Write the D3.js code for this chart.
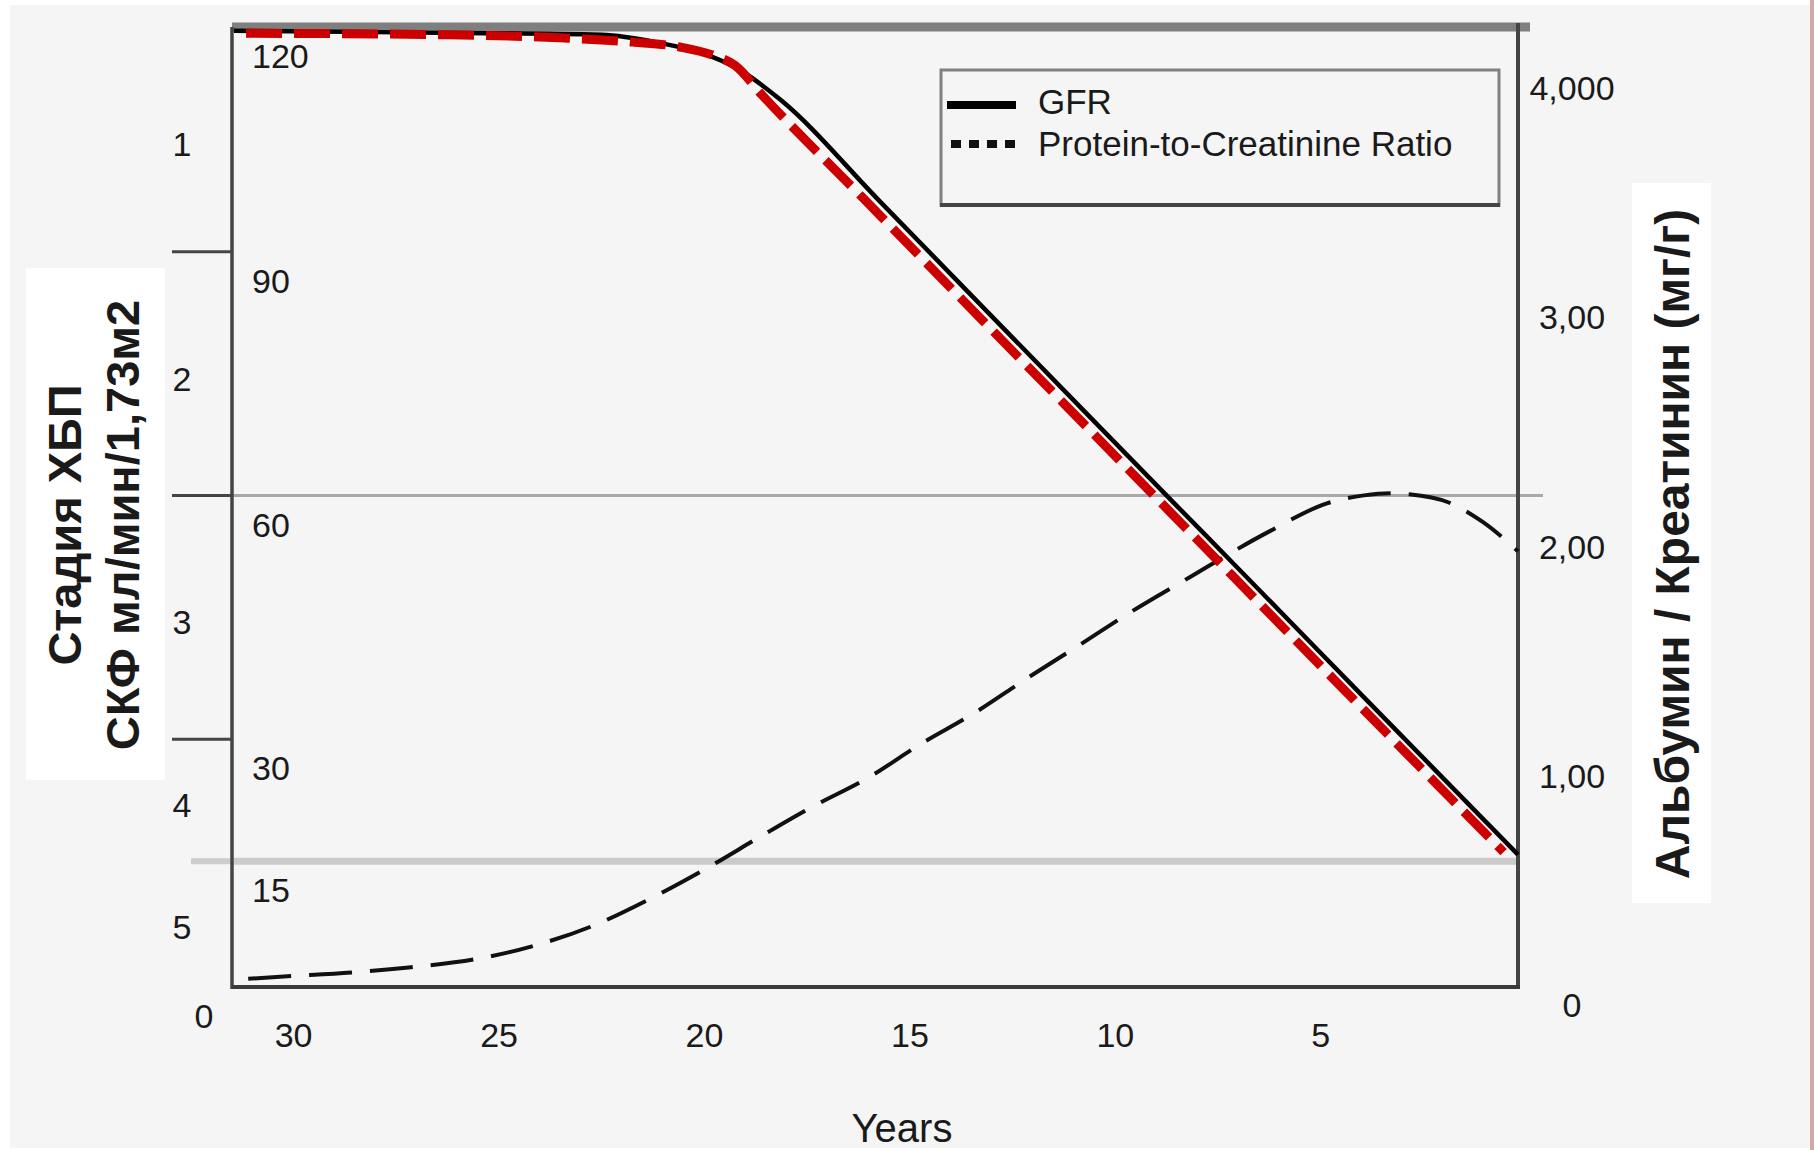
<!DOCTYPE html>
<html>
<head>
<meta charset="utf-8">
<script src="https://cdn.jsdelivr.net/npm/d3@7/dist/d3.min.js"></script>
<style>
  html, body { margin: 0; padding: 0; background: #ffffff; }
  svg { display: block; }
  text { font-family: "Liberation Sans", Arial, sans-serif; fill: #1a1a1a; }
</style>
</head>
<body>
<svg id="chart" width="1814" height="1150"></svg>
<script>
// ---- Data ---------------------------------------------------------------
// Years before kidney failure (x) and glomerular filtration rate, ml/min/1.73m2
const gfrYears  = [31.45, 27.4, 22.5, 21.1, 20.1, 19.15, 18.15, 15.75, 12.9, 10.8, 8.5, 7.2, 3.9, 0.2];
const gfrValues = [117.2, 117.0, 116.7, 115.7, 114.5, 112.4, 108.7, 96.3, 81.5, 70.6, 58.7, 52.0, 34.9, 15.8];

// Highlighted GFR decline (red dashed overlay)
const trendYears  = [31.45, 26.2, 23.4, 21.75, 20.6, 19.8, 19.25, 18.6, 16.15, 13.3, 8.75, 4.3, 0.55];
const trendValues = [116.9, 116.7, 116.3, 115.8, 115.2, 114.2, 112.9, 109.3, 96.65, 81.9, 58.4, 35.4, 16.1];

// Protein-to-creatinine ratio, mg/g
const pcrYears  = [31.3, 30.15, 28.6, 27.2, 25.6, 24.2, 22.75, 21.35, 20.0, 18.55, 17.4, 16.0, 14.75,
                   13.4, 12.15, 10.85, 9.6, 8.2, 6.25, 4.85, 3.95, 3.3, 2.85, 1.9, 1.05, 0.2];
const pcrValues = [112, 125, 142, 164, 199, 256, 343, 461, 591, 744, 862, 993, 1137,
                   1277, 1425, 1573, 1717, 1865, 2066, 2188, 2223, 2232, 2228, 2193, 2106, 1979];

// Axis ticks and labels
const yearTicks   = [30, 25, 20, 15, 10, 5];
const gfrTicks    = [120, 90, 60, 30, 15];
const stageCuts   = [90, 60, 30, 15];
const stageGrid   = [60, 15];
const stageNames  = ["1", "2", "3", "4", "5"];
const stageBounds = [[90, 120], [60, 90], [30, 60], [15, 30], [0, 15]];
const pcrTicks    = [0, 1000, 2000, 3000, 4000];
const pcrLabels   = ["0", "1,00", "2,00", "3,00", "4,000"];

const legendItems = ["GFR", "Protein-to-Creatinine Ratio"];
const leftTitle   = ["Стадия ХБП", "СКФ мл/мин/1,73м2"];
const rightTitle  = "Альбумин / Креатинин (мг/г)";
const xTitle      = "Years";

// ---- Layout -------------------------------------------------------------
const W = 1814, H = 1150;
const plot = { left: 232, right: 1518, top: 27, bottom: 987 };

const x    = d3.scaleLinear().domain([31.5, 0.2]).range([plot.left, plot.right]);
const yGfr = d3.scaleLinear().domain([0, 120]).range([983, 8]);
const yPcr = d3.scaleLinear().domain([0, 4000]).range([1005, 88]);

const svg = d3.select("#chart");

// background
svg.append("rect").attr("width", W).attr("height", H).attr("fill", "#ffffff");
svg.append("rect").attr("x", 10).attr("y", 5).attr("width", W - 14).attr("height", H - 7).attr("fill", "#f5f5f5");
svg.append("rect").attr("x", 1810).attr("y", 0).attr("width", 4).attr("height", H).attr("fill", "#d9a4a4");

// ---- Stage boundaries: outer ticks and gridlines ------------------------
const gGrid = svg.append("g");
stageCuts.forEach(v => {
  const yy = yGfr(v);
  const light = v === 15;
  gGrid.append("line")
    .attr("x1", light ? 191 : 172).attr("x2", plot.left)
    .attr("y1", yy).attr("y2", yy)
    .attr("stroke", light ? "#cdcdcd" : "#454545")
    .attr("stroke-width", light ? 6 : 3);
});
stageGrid.forEach(v => {
  const yy = yGfr(v);
  const light = v === 15;
  gGrid.append("line")
    .attr("x1", plot.left).attr("x2", light ? plot.right : 1543)
    .attr("y1", yy).attr("y2", yy)
    .attr("stroke", light ? "#cbcbcb" : "#a9a9a9")
    .attr("stroke-width", light ? 7 : 3);
});

// ---- Frame --------------------------------------------------------------
svg.append("line").attr("x1", plot.left).attr("x2", 1530).attr("y1", plot.top).attr("y2", plot.top)
  .attr("stroke", "#7f7f7f").attr("stroke-width", 9);
svg.append("line").attr("x1", plot.left).attr("x2", plot.left).attr("y1", plot.top).attr("y2", plot.bottom + 2)
  .attr("stroke", "#444").attr("stroke-width", 3.5);
svg.append("line").attr("x1", plot.right).attr("x2", plot.right).attr("y1", plot.top - 4).attr("y2", plot.bottom + 2)
  .attr("stroke", "#444").attr("stroke-width", 4);
svg.append("line").attr("x1", plot.left).attr("x2", plot.right + 2).attr("y1", plot.bottom).attr("y2", plot.bottom)
  .attr("stroke", "#3a3a3a").attr("stroke-width", 4);

// ---- Series -------------------------------------------------------------
const pcrLine = d3.line()
  .x((d, i) => x(pcrYears[i])).y(d => yPcr(d))
  .curve(d3.curveMonotoneX);
svg.append("path").datum(pcrValues)
  .attr("d", pcrLine)
  .attr("fill", "none").attr("stroke", "#111").attr("stroke-width", 4)
  .attr("stroke-dasharray", "43 18").attr("stroke-dashoffset", -8);

const gfrLine = d3.line()
  .x((d, i) => x(gfrYears[i])).y(d => yGfr(d))
  .curve(d3.curveMonotoneX);
svg.append("path").datum(gfrValues)
  .attr("d", gfrLine)
  .attr("fill", "none").attr("stroke", "#000").attr("stroke-width", 4.5);

const trendLine = d3.line()
  .x((d, i) => x(trendYears[i])).y(d => yGfr(d))
  .curve(d3.curveMonotoneX);
svg.append("path").datum(trendValues)
  .attr("d", trendLine)
  .attr("fill", "none").attr("stroke", "#cc0000").attr("stroke-width", 9)
  .attr("stroke-dasharray", "36 12").attr("stroke-dashoffset", -12);

// ---- Tick labels --------------------------------------------------------
const tickFont = 34;
svg.append("g").selectAll("text").data(yearTicks).join("text")
  .attr("x", d => x(d)).attr("y", 1047)
  .attr("text-anchor", "middle").attr("font-size", tickFont)
  .text(d => d);

svg.append("g").selectAll("text").data(gfrTicks).join("text")
  .attr("x", 252).attr("y", d => Math.max(yGfr(d), plot.top) + 41)
  .attr("font-size", tickFont)
  .text(d => d);

svg.append("text").attr("x", 204).attr("y", yGfr(0) + 45)
  .attr("text-anchor", "middle").attr("font-size", tickFont).text(0);

const gfrTop = yGfr.invert(plot.top);
svg.append("g").selectAll("text").data(stageNames).join("text")
  .attr("x", 182)
  .attr("y", (d, i) => yGfr((stageBounds[i][0] + Math.min(stageBounds[i][1], gfrTop)) / 2) + 17)
  .attr("text-anchor", "middle").attr("font-size", tickFont)
  .text(d => d);

svg.append("g").selectAll("text").data(pcrTicks).join("text")
  .attr("x", 1572).attr("y", d => yPcr(d) + 12)
  .attr("text-anchor", "middle").attr("font-size", tickFont)
  .text((d, i) => pcrLabels[i]);

// ---- Legend -------------------------------------------------------------
const lg = svg.append("g");
lg.append("rect").attr("x", 941).attr("y", 70).attr("width", 558).attr("height", 135)
  .attr("fill", "none").attr("stroke", "#808080").attr("stroke-width", 3);
lg.append("line").attr("x1", 940).attr("x2", 1500).attr("y1", 205).attr("y2", 205)
  .attr("stroke", "#444").attr("stroke-width", 4);
lg.append("line").attr("x1", 947).attr("x2", 1016).attr("y1", 105).attr("y2", 105)
  .attr("stroke", "#000").attr("stroke-width", 8);
lg.append("line").attr("x1", 951).attr("x2", 1016).attr("y1", 144).attr("y2", 144)
  .attr("stroke", "#111").attr("stroke-width", 8).attr("stroke-dasharray", "10 8");
lg.selectAll("text.item").data(legendItems).join("text")
  .attr("class", "item")
  .attr("x", 1038).attr("y", (d, i) => 114 + i * 42)
  .attr("font-size", 35)
  .text(d => d);

// ---- Axis titles --------------------------------------------------------
svg.append("rect").attr("x", 26).attr("y", 268).attr("width", 139).attr("height", 512).attr("fill", "#ffffff");
leftTitle.forEach((t, i) => {
  svg.append("text")
    .attr("transform", `translate(${81 + i * 58},525) rotate(-90)`)
    .attr("text-anchor", "middle").attr("font-size", 47).attr("font-weight", "bold")
    .attr("fill", "#000")
    .text(t);
});

svg.append("rect").attr("x", 1632).attr("y", 183).attr("width", 79).attr("height", 720).attr("fill", "#ffffff");
svg.append("text")
  .attr("transform", "translate(1689,544) rotate(-90)")
  .attr("text-anchor", "middle").attr("font-size", 48).attr("font-weight", "bold")
  .attr("fill", "#000")
  .text(rightTitle);

svg.append("text").attr("x", 902).attr("y", 1142)
  .attr("text-anchor", "middle").attr("font-size", 40)
  .text(xTitle);
</script>
</body>
</html>
